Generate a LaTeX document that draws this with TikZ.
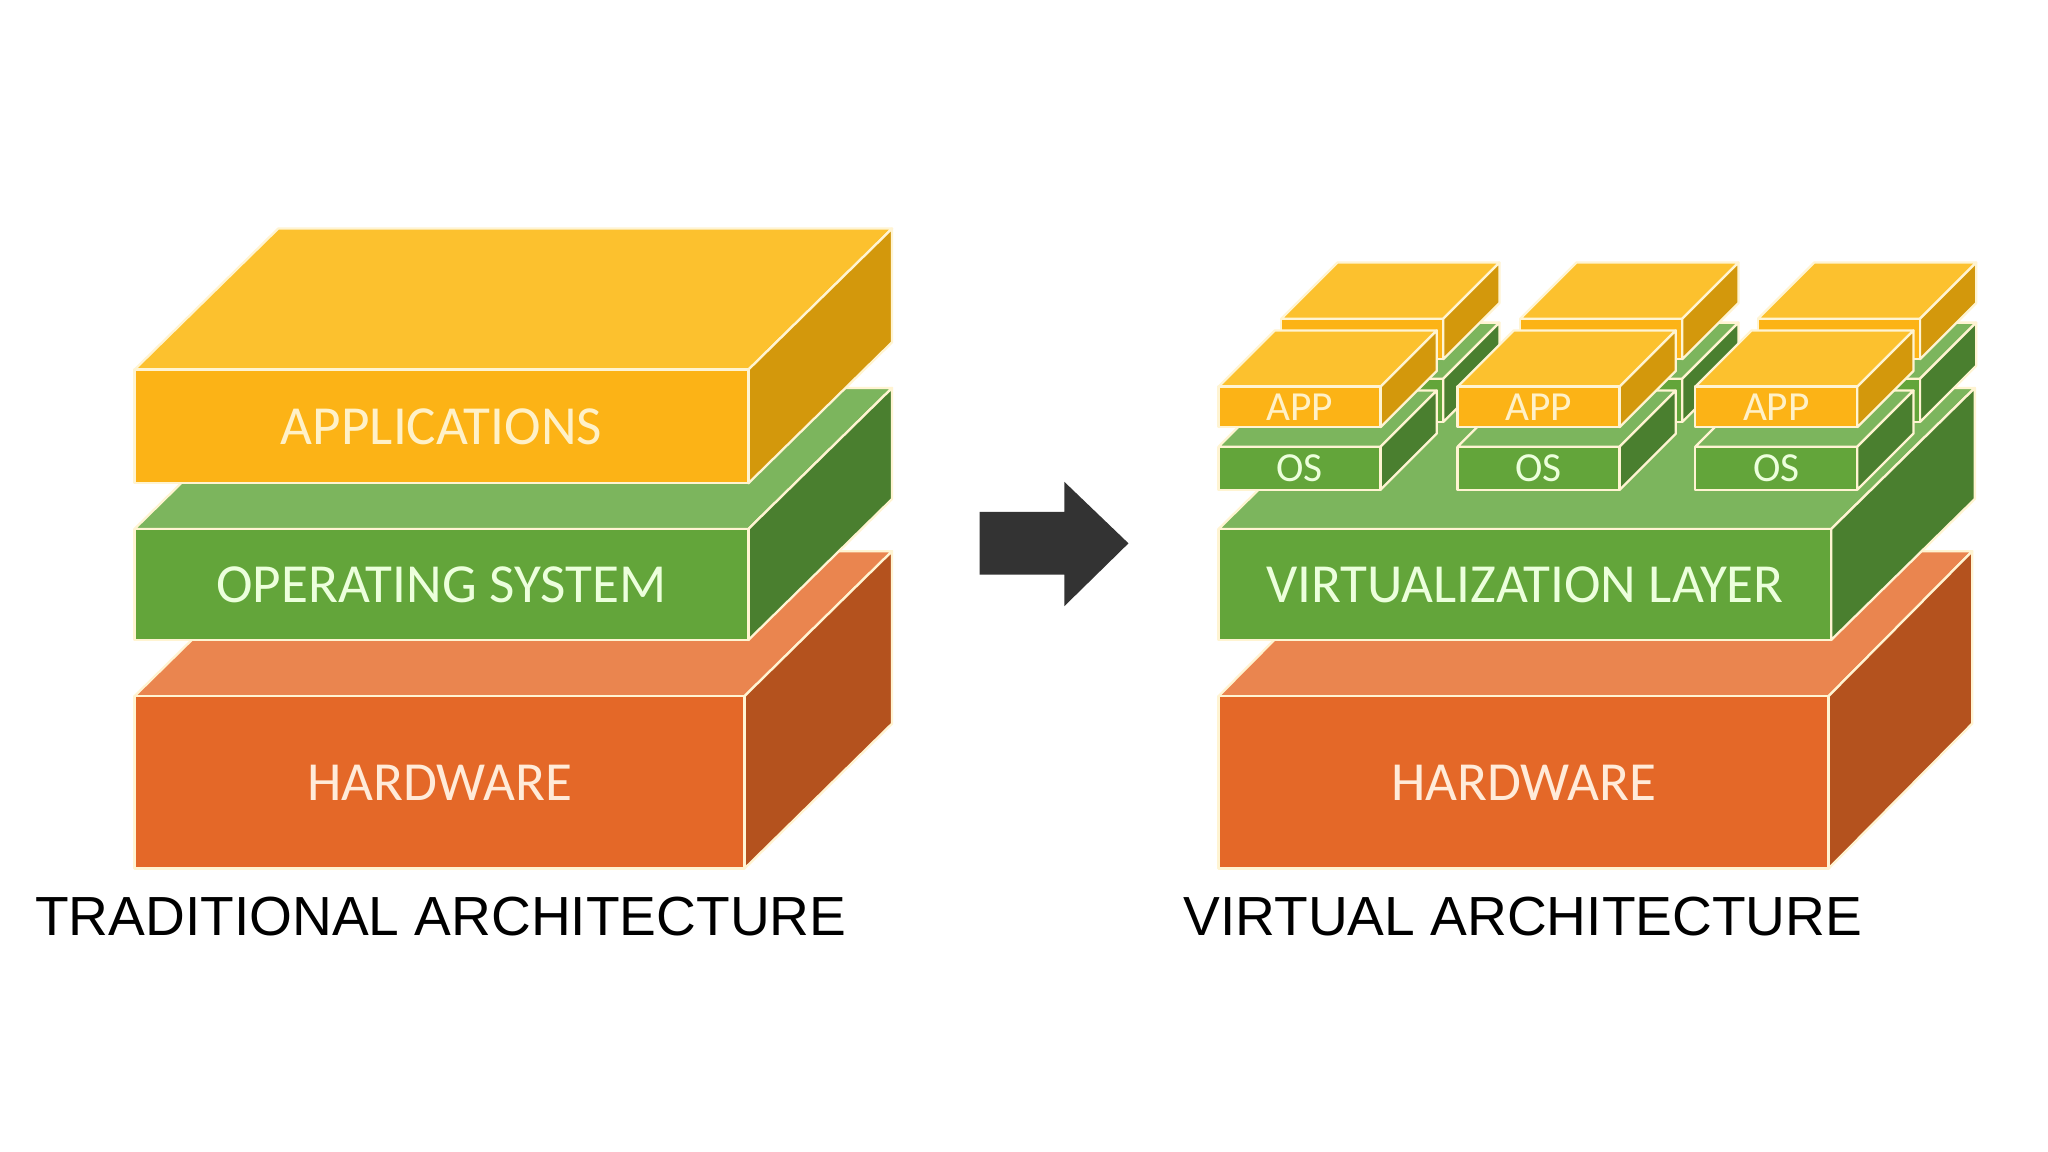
\documentclass[tikz,border=0pt]{standalone}
\usepackage{fontspec}
\setmainfont{Carlito}
\newfontfamily\titlefont{Liberation Sans}
\definecolor{appF}{HTML}{FCB316}
\definecolor{appT}{HTML}{FCC12E}
\definecolor{appS}{HTML}{D3980C}
\definecolor{grnF}{HTML}{63A53A}
\definecolor{grnT}{HTML}{7CB55D}
\definecolor{grnS}{HTML}{4A7F2F}
\definecolor{orgF}{HTML}{E46828}
\definecolor{orgT}{HTML}{EA854F}
\definecolor{orgS}{HTML}{B4521E}
\definecolor{edgec}{HTML}{FFF4D2}
\definecolor{appTxt}{HTML}{FFF1C8}
\definecolor{grnTxt}{HTML}{ECFFDC}
\definecolor{orgTxt}{HTML}{FFEBD9}
\definecolor{arrowc}{HTML}{333333}
\tikzset{
  edge/.style={draw=edgec, line width=0.5pt, line join=round},
  biglbl/.style={inner sep=0pt, font=\fontsize{12}{14}\selectfont},
  smalllbl/.style={inner sep=0pt, font=\fontsize{9}{11}\selectfont},
  titlelbl/.style={inner sep=0pt, text=black, font=\titlefont\fontsize{12}{14}\selectfont},
}
% #1 x, #2 y (top of front face), #3 width, #4 height, #5 dx, #6 dy, #7 colour prefix
\newcommand{\slab}[7]{%
  \filldraw[edge, fill=#7T] (#1,#2) -- ++(#5,-#6) -- ++(#3,0) -- (#1+#3,#2) -- cycle;
  \filldraw[edge, fill=#7S] (#1+#3,#2) -- ++(#5,-#6) -- ++(0,#4) -- (#1+#3,#2+#4) -- cycle;
  \filldraw[edge, fill=#7F] (#1,#2) rectangle ++(#3,#4);
}
\begin{document}
\begin{tikzpicture}[x=0.01cm, y=-0.01cm]
\useasboundingbox[fill=white] (0,0) rectangle (1568,882);

% ---------- traditional stack ----------
\slab{103}{533}{467}{132}{113}{111}{org}
\slab{103}{405}{470}{85}{110}{108}{grn}
\slab{103}{283}{470}{87}{110}{108}{app}
\node[biglbl, text=orgTxt] (thw) at (336.5,599) {HARDWARE};
\node[biglbl, text=grnTxt] (tos) at (338,447.5) {OPERATING SYSTEM};
\node[biglbl, text=appTxt] (tapp) at (338,326.5) {APPLICATIONS};
\node[titlelbl] (ttitle) at (337.5,702) {TRADITIONAL ARCHITECTURE};

% ---------- arrow ----------
\fill[arrowc] (750,392) -- (815,392) -- (815,369) -- (864,416) -- (815,464) -- (815,440) -- (750,440) -- cycle;

% ---------- virtual stack ----------
\slab{933}{533}{467}{132}{110}{111}{org}
\slab{933}{405}{469}{85}{110}{108}{grn}
\node[biglbl, text=orgTxt] (vhw) at (1166.5,599) {HARDWARE};
\node[biglbl, text=grnTxt] (vvl) at (1167.5,447.5) {VIRTUALIZATION LAYER};

% back row
\foreach \cx in {981,1164,1346}{
  \slab{\cx}{290}{124}{33}{43}{43}{grn}
  \slab{\cx}{244}{124}{31}{43}{43}{app}
}
% front row
\foreach \cx/\nm in {933/a,1116/b,1298/c}{
  \slab{\cx}{342}{124}{33}{43}{43}{grn}
  \slab{\cx}{296}{124}{31}{43}{43}{app}
  \node[smalllbl, text=grnTxt] (os\nm) at (\cx+62,358.5) {OS};
  \node[smalllbl, text=appTxt] (app\nm) at (\cx+62,311.5) {APP};
}
\node[titlelbl] (vtitle) at (1166,702) {VIRTUAL ARCHITECTURE};
\end{tikzpicture}
\end{document}
